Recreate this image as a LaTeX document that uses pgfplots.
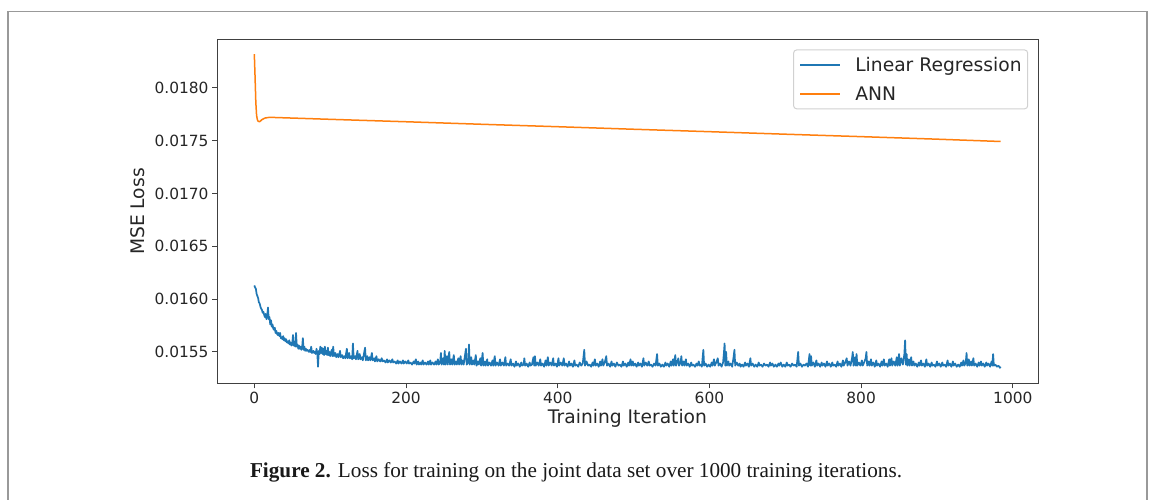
\documentclass[border=0pt]{standalone}
\usepackage{pgfplots}
\pgfplotsset{compat=1.18}
\usepackage{pgfplotstable}
\usepackage{fontspec}
\setmainfont{DejaVu Sans}
\newfontfamily\capfont{Liberation Serif}
\definecolor{mplblue}{HTML}{1F77B4}
\definecolor{mplorange}{HTML}{FF7F0E}

\pgfplotstableread[row sep=\\]{
x y\\
0 0.01613\\ 1 0.01611\\ 2 0.01610\\ 3 0.01605\\ 4 0.01603\\ 5 0.01601\\ 6 0.01597\\ 7 0.01596\\ 8 0.01593\\ 9 0.01591\\
10 0.01590\\ 11 0.01587\\ 12 0.01588\\ 13 0.01585\\ 14 0.01583\\ 15 0.01586\\ 16 0.01581\\ 17 0.01584\\ 18 0.01592\\ 19 0.01581\\
20 0.01583\\ 21 0.01576\\ 22 0.01580\\ 23 0.01574\\ 24 0.01576\\ 25 0.01572\\ 26 0.01571\\ 27 0.01573\\ 28 0.01568\\ 29 0.01570\\
30 0.01567\\ 31 0.01566\\ 32 0.01568\\ 33 0.01565\\ 34 0.01568\\ 35 0.01563\\ 36 0.01564\\ 37 0.01562\\ 38 0.01565\\ 39 0.01561\\
40 0.01563\\ 41 0.01560\\ 42 0.01562\\ 43 0.01559\\ 44 0.01560\\ 45 0.01558\\ 46 0.01561\\ 47 0.01557\\ 48 0.01559\\ 49 0.01556\\
50 0.01558\\ 51 0.01566\\ 52 0.01556\\ 53 0.01557\\ 54 0.01555\\ 55 0.01568\\ 56 0.01555\\ 57 0.01557\\ 58 0.01553\\ 59 0.01556\\
60 0.01553\\ 61 0.01555\\ 62 0.01552\\ 63 0.01554\\ 64 0.01563\\ 65 0.01552\\ 66 0.01555\\ 67 0.01551\\ 68 0.01553\\ 69 0.01551\\
70 0.01552\\ 72 0.01550\\ 73 0.01552\\ 74 0.01550\\ 75 0.01555\\ 76 0.01549\\ 78 0.01551\\ 79 0.01549\\ 80 0.01550\\ 81 0.01548\\
82 0.01553\\ 83 0.01549\\ 84 0.01536\\ 85 0.01551\\ 86 0.01548\\ 87 0.01555\\ 88 0.01549\\ 89 0.01554\\ 90 0.01548\\ 91 0.01553\\
92 0.01547\\ 93 0.01555\\ 94 0.01548\\ 95 0.01551\\ 96 0.01547\\ 97 0.01554\\ 98 0.01547\\ 99 0.01550\\ 100 0.01546\\
102 0.01552\\ 103 0.01546\\ 104 0.01555\\ 105 0.01546\\ 107 0.01549\\ 108 0.01545\\ 110 0.01548\\ 111 0.01545\\ 113 0.01551\\ 114 0.01545\\
116 0.01547\\ 117 0.01544\\ 119 0.01546\\ 120 0.01544\\ 122 0.01553\\ 123 0.01544\\ 125 0.01549\\ 126 0.01544\\ 128 0.01546\\ 129 0.01543\\
130 0.01558\\ 131 0.01544\\ 133 0.01546\\ 134 0.01543\\ 136 0.01551\\ 137 0.01543\\ 139 0.01548\\ 140 0.01543\\ 142 0.01545\\ 143 0.01542\\
145 0.01550\\ 146 0.01554\\ 147 0.01542\\ 149 0.01546\\ 150 0.01542\\ 152 0.01545\\ 153 0.01542\\ 155 0.01549\\ 156 0.01542\\ 158 0.01544\\
159 0.01541\\ 161 0.01546\\ 162 0.01541\\ 164 0.01543\\ 166 0.01541\\ 168 0.01544\\ 169 0.01541\\ 171 0.01542\\ 173 0.01540\\ 175 0.01543\\
176 0.01540\\ 178 0.01542\\ 180 0.01540\\ 182 0.01543\\ 183 0.01540\\ 185 0.01541\\ 187 0.01539\\ 189 0.01542\\ 190 0.01539\\ 192 0.01541\\
194 0.01539\\ 196 0.01542\\ 197 0.01539\\ 199 0.01541\\ 201 0.01539\\ 203 0.01542\\ 204 0.01539\\ 206 0.01540\\ 208 0.01538\\ 210 0.01541\\
211 0.01539\\ 213 0.01543\\ 214 0.01538\\ 216 0.01541\\ 217 0.01538\\ 219 0.01540\\ 220 0.01538\\ 222 0.01542\\ 223 0.01538\\ 225 0.01540\\
227 0.01538\\ 229 0.01541\\ 230 0.01538\\ 232 0.01542\\ 233 0.01538\\ 235 0.01540\\ 237 0.01538\\ 239 0.01541\\ 240 0.01538\\ 242 0.01543\\
243 0.01538\\ 245 0.01540\\ 246 0.01549\\ 247 0.01538\\ 249 0.01544\\ 250 0.01538\\ 251 0.01551\\ 252 0.01538\\ 254 0.01546\\ 255 0.01538\\
256 0.01545\\ 257 0.01550\\ 258 0.01538\\ 260 0.01543\\ 261 0.01538\\ 263 0.01547\\ 264 0.01538\\ 266 0.01541\\ 267 0.01538\\ 269 0.01544\\
270 0.01538\\ 272 0.01546\\ 273 0.01538\\ 275 0.01542\\ 276 0.01538\\ 278 0.01548\\ 279 0.01553\\ 280 0.01538\\ 282 0.01540\\ 283 0.01557\\
284 0.01538\\ 286 0.01545\\ 287 0.01538\\ 289 0.01542\\ 290 0.01538\\ 292 0.01547\\ 293 0.01537\\ 295 0.01541\\ 296 0.01538\\ 298 0.01544\\
299 0.01537\\ 301 0.01549\\ 302 0.01537\\ 304 0.01541\\ 305 0.01537\\ 307 0.01543\\ 308 0.01537\\ 310 0.01540\\ 312 0.01537\\ 314 0.01542\\
315 0.01537\\ 317 0.01546\\ 318 0.01537\\ 320 0.01540\\ 322 0.01537\\ 324 0.01543\\ 325 0.01537\\ 327 0.01540\\ 329 0.01537\\ 331 0.01545\\
332 0.01537\\ 334 0.01539\\ 336 0.01537\\ 338 0.01543\\ 339 0.01537\\ 341 0.01539\\ 343 0.01536\\ 345 0.01541\\ 346 0.01537\\ 348 0.01539\\
350 0.01536\\ 352 0.01540\\ 353 0.01537\\ 355 0.01538\\ 356 0.01544\\ 357 0.01537\\ 359 0.01539\\ 361 0.01536\\ 363 0.01540\\ 364 0.01537\\
366 0.01538\\ 368 0.01545\\ 369 0.01537\\ 370 0.01546\\ 371 0.01537\\ 373 0.01540\\ 375 0.01537\\ 377 0.01543\\ 378 0.01537\\ 380 0.01539\\
382 0.01536\\ 384 0.01542\\ 385 0.01537\\ 387 0.01545\\ 388 0.01537\\ 390 0.01540\\ 392 0.01537\\ 394 0.01544\\ 395 0.01537\\ 397 0.01539\\
399 0.01536\\ 401 0.01544\\ 402 0.01537\\ 404 0.01540\\ 406 0.01537\\ 408 0.01544\\ 409 0.01537\\ 411 0.01539\\ 413 0.01536\\ 415 0.01541\\
416 0.01537\\ 418 0.01539\\ 420 0.01536\\ 422 0.01542\\ 423 0.01537\\ 425 0.01538\\ 427 0.01536\\ 429 0.01540\\ 431 0.01537\\ 433 0.01539\\
435 0.01552\\ 436 0.01537\\ 438 0.01541\\ 440 0.01537\\ 442 0.01538\\ 444 0.01536\\ 446 0.01540\\ 447 0.01537\\ 449 0.01543\\ 450 0.01537\\
452 0.01539\\ 454 0.01536\\ 456 0.01541\\ 457 0.01537\\ 459 0.01543\\ 460 0.01537\\ 462 0.01540\\ 464 0.01546\\ 465 0.01537\\ 467 0.01539\\
469 0.01536\\ 471 0.01541\\ 472 0.01537\\ 474 0.01539\\ 476 0.01536\\ 478 0.01540\\ 480 0.01537\\ 482 0.01538\\ 484 0.01536\\ 486 0.01541\\
487 0.01537\\ 489 0.01539\\ 491 0.01536\\ 493 0.01540\\ 494 0.01537\\ 496 0.01543\\ 497 0.01537\\ 499 0.01541\\ 500 0.01537\\ 502 0.01539\\
504 0.01536\\ 506 0.01540\\ 507 0.01537\\ 509 0.01539\\ 511 0.01536\\ 513 0.01544\\ 514 0.01537\\ 516 0.01540\\ 518 0.01537\\ 520 0.01541\\
521 0.01537\\ 523 0.01538\\ 525 0.01536\\ 527 0.01539\\ 529 0.01537\\ 531 0.01548\\ 532 0.01537\\ 534 0.01539\\ 536 0.01536\\ 538 0.01538\\
540 0.01536\\ 542 0.01540\\ 543 0.01537\\ 545 0.01539\\ 547 0.01536\\ 549 0.01541\\ 550 0.01537\\ 552 0.01543\\ 553 0.01537\\ 555 0.01547\\
556 0.01537\\ 558 0.01541\\ 559 0.01544\\ 560 0.01537\\ 562 0.01540\\ 563 0.01546\\ 564 0.01537\\ 566 0.01541\\ 567 0.01537\\ 569 0.01543\\
570 0.01537\\ 572 0.01539\\ 574 0.01536\\ 576 0.01540\\ 577 0.01537\\ 579 0.01538\\ 581 0.01536\\ 583 0.01539\\ 584 0.01537\\ 586 0.01541\\
587 0.01537\\ 589 0.01538\\ 590 0.01536\\ 592 0.01552\\ 593 0.01537\\ 595 0.01539\\ 597 0.01536\\ 599 0.01538\\ 601 0.01536\\ 603 0.01540\\
604 0.01537\\ 606 0.01543\\ 607 0.01537\\ 609 0.01540\\ 611 0.01544\\ 612 0.01537\\ 614 0.01539\\ 616 0.01536\\ 618 0.01540\\ 619 0.01548\\
620 0.01558\\ 621 0.01537\\ 622 0.01550\\ 623 0.01537\\ 625 0.01541\\ 626 0.01537\\ 628 0.01539\\ 630 0.01536\\ 632 0.01546\\ 633 0.01552\\
634 0.01537\\ 636 0.01540\\ 638 0.01537\\ 640 0.01539\\ 641 0.01536\\ 643 0.01538\\ 645 0.01536\\ 647 0.01540\\ 648 0.01537\\ 650 0.01539\\
652 0.01536\\ 654 0.01544\\ 655 0.01537\\ 657 0.01539\\ 659 0.01536\\ 661 0.01538\\ 663 0.01536\\ 665 0.01540\\ 666 0.01537\\ 668 0.01538\\
670 0.01536\\ 672 0.01539\\ 674 0.01537\\ 676 0.01538\\ 678 0.01536\\ 680 0.01540\\ 681 0.01537\\ 683 0.01539\\ 685 0.01536\\ 687 0.01538\\
689 0.01536\\ 691 0.01539\\ 692 0.01537\\ 694 0.01540\\ 696 0.01536\\ 698 0.01538\\ 700 0.01536\\ 702 0.01540\\ 703 0.01537\\ 705 0.01538\\
707 0.01536\\ 709 0.01539\\ 711 0.01537\\ 713 0.01538\\ 715 0.01536\\ 717 0.01550\\ 718 0.01537\\ 720 0.01539\\ 722 0.01536\\ 724 0.01538\\
726 0.01537\\ 728 0.01539\\ 730 0.01536\\ 732 0.01548\\ 733 0.01537\\ 734 0.01546\\ 735 0.01537\\ 737 0.01540\\ 739 0.01536\\ 741 0.01542\\
742 0.01537\\ 744 0.01539\\ 746 0.01536\\ 748 0.01540\\ 749 0.01537\\ 751 0.01539\\ 753 0.01536\\ 755 0.01541\\ 756 0.01537\\ 758 0.01539\\
760 0.01536\\ 762 0.01540\\ 763 0.01537\\ 765 0.01538\\ 767 0.01536\\ 769 0.01541\\ 770 0.01537\\ 772 0.01539\\ 774 0.01536\\ 776 0.01542\\
777 0.01537\\ 779 0.01540\\ 781 0.01544\\ 782 0.01537\\ 784 0.01541\\ 786 0.01537\\ 788 0.01544\\ 789 0.01550\\ 790 0.01537\\ 792 0.01545\\
793 0.01537\\ 794 0.01548\\ 795 0.01537\\ 797 0.01540\\ 799 0.01537\\ 801 0.01542\\ 802 0.01537\\ 804 0.01540\\ 806 0.01544\\ 807 0.01550\\
808 0.01537\\ 810 0.01541\\ 811 0.01537\\ 813 0.01543\\ 814 0.01537\\ 816 0.01540\\ 818 0.01536\\ 820 0.01542\\ 821 0.01537\\ 823 0.01539\\
825 0.01536\\ 827 0.01541\\ 828 0.01537\\ 830 0.01543\\ 831 0.01537\\ 833 0.01539\\ 835 0.01536\\ 837 0.01543\\ 838 0.01537\\ 840 0.01544\\
841 0.01537\\ 843 0.01541\\ 845 0.01537\\ 847 0.01545\\ 848 0.01537\\ 850 0.01548\\ 851 0.01537\\ 853 0.01544\\ 855 0.01538\\ 857 0.01548\\
858 0.01561\\ 859 0.01538\\ 860 0.01548\\ 861 0.01537\\ 863 0.01543\\ 864 0.01537\\ 866 0.01545\\ 867 0.01537\\ 869 0.01541\\ 870 0.01537\\
872 0.01539\\ 874 0.01536\\ 876 0.01540\\ 877 0.01537\\ 879 0.01542\\ 880 0.01537\\ 882 0.01539\\ 884 0.01536\\ 886 0.01543\\ 887 0.01537\\
889 0.01539\\ 891 0.01536\\ 893 0.01540\\ 894 0.01537\\ 896 0.01538\\ 898 0.01536\\ 900 0.01541\\ 901 0.01537\\ 903 0.01539\\ 905 0.01536\\
907 0.01540\\ 908 0.01537\\ 910 0.01538\\ 912 0.01536\\ 914 0.01542\\ 915 0.01537\\ 917 0.01539\\ 919 0.01536\\ 921 0.01541\\ 922 0.01537\\
924 0.01539\\ 926 0.01536\\ 928 0.01538\\ 930 0.01536\\ 932 0.01540\\ 933 0.01537\\ 935 0.01542\\ 936 0.01537\\ 938 0.01540\\ 939 0.01549\\
940 0.01537\\ 942 0.01543\\ 943 0.01537\\ 945 0.01541\\ 946 0.01537\\ 948 0.01544\\ 949 0.01537\\ 951 0.01539\\ 953 0.01536\\ 955 0.01540\\
956 0.01537\\ 958 0.01541\\ 959 0.01537\\ 961 0.01539\\ 963 0.01536\\ 965 0.01540\\ 966 0.01537\\ 968 0.01539\\ 970 0.01536\\ 972 0.01541\\
973 0.01537\\ 974 0.01548\\ 975 0.01537\\ 977 0.01538\\ 979 0.01536\\ 981 0.01537\\ 983 0.01535\\ 984 0.01536\\
}\lrdata

\pgfplotstableread[row sep=\\]{
x y\\
0 0.01832\\ 1 0.01810\\ 2 0.01786\\ 3 0.01774\\ 4 0.01770\\ 5 0.017685\\ 7 0.01768\\ 10 0.017700\\ 14 0.017715\\ 20 0.017722\\
100 0.017703\\ 200 0.017680\\ 300 0.017656\\ 400 0.017633\\ 500 0.017609\\ 600 0.017586\\ 700 0.017562\\ 800 0.017539\\ 900 0.017515\\ 984 0.017493\\
}\anndata

\begin{document}
\begin{tikzpicture}
\useasboundingbox (0,0) rectangle (1153bp,500bp);
\fill[white] (0,0) rectangle (1153bp,500bp);
\draw[black!40, line width=1.2bp] (8bp,0) -- (8bp,488.3bp) -- (1147bp,488.3bp) -- (1147bp,0);
\begin{axis}[
  at={(217bp,116.5bp)}, anchor=south west,
  scale only axis, width=821bp, height=344bp,
  xmin=-49.2, xmax=1033.2, ymin=0.015201, ymax=0.018459,
  xtick={0,200,400,600,800,1000},
  ytick={0.0155,0.0160,0.0165,0.0170,0.0175,0.0180},
  scaled y ticks=false,
  xticklabel style={/pgf/number format/.cd, fixed, precision=0, 1000 sep={}},
  yticklabel style={/pgf/number format/.cd, fixed, fixed zerofill, precision=4},
  /pgf/number format/assume math mode=true,
  tick align=outside, major tick length=5bp,
  xtick pos=left, ytick pos=left,
  axis line style={black!75, line width=1bp},
  tick style={black!75, line width=1bp},
  tick label style={font=\fontsize{15.4bp}{18bp}\selectfont, text=black!85},
  label style={font=\fontsize{18.7bp}{22bp}\selectfont, text=black!85},
  xlabel={Training Iteration},
  ylabel={MSE Loss},
  xlabel style={at={(axis description cs:0.5,-0.1177)}, anchor=base},
  ylabel style={at={(axis description cs:-0.0962,0.5)}, anchor=center},
  legend cell align=left,
  legend image code/.code={\draw[#1] (0bp,0bp) -- (40bp,0bp);},
  legend style={at={(axis description cs:0.988,0.971)}, anchor=north east,
    font=\fontsize{18.7bp}{22bp}\selectfont, text=black!85,
    draw=black!18, line width=1bp, rounded corners=3bp, fill=white, fill opacity=0.8, text opacity=1,
    inner xsep=6bp, inner ysep=7bp, row sep=14bp, column sep=0bp,
    nodes={inner sep=0bp, inner xsep=0bp},
    /tikz/every odd column/.style={column sep=14bp}},
]
\addplot[mplblue, line width=1.7bp, line join=round] table[x=x, y=y] {\lrdata};
\addlegendentry{Linear Regression}
\addplot[mplorange, line width=1.5bp, line join=round] table[x=x, y=y] {\anndata};
\addlegendentry{ANN}
\end{axis}
\node[anchor=base, font=\capfont\fontsize{21.2bp}{24bp}\selectfont, text=black!90] at (576bp,23bp)
  {\textbf{Figure 2.} Loss for training on the joint data set over 1000 training iterations.};
\end{tikzpicture}
\end{document}
